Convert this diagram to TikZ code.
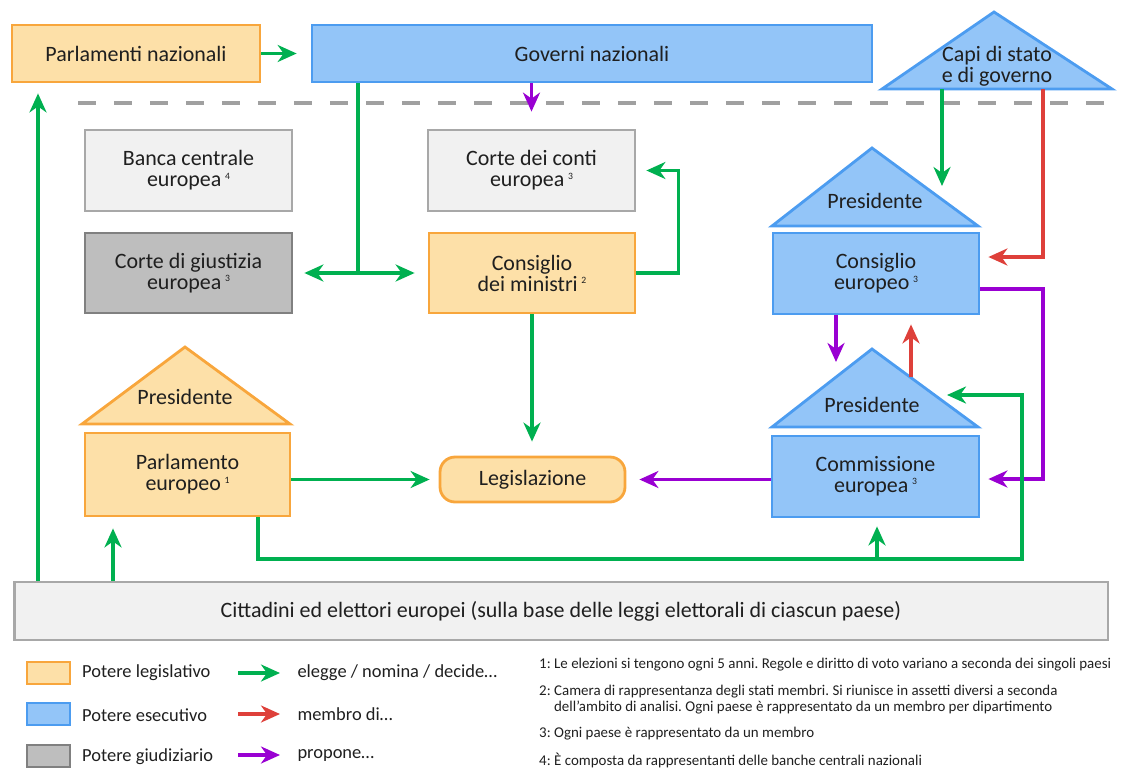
\documentclass[tikz,border=0pt]{standalone}
\usepackage{fontspec}
\setmainfont{Carlito}
\usetikzlibrary{arrows.meta}
\frenchspacing

\definecolor{orbd}{RGB}{248,166,60}
\definecolor{orfill}{RGB}{253,224,168}
\definecolor{blbd}{RGB}{76,156,240}
\definecolor{blfill}{RGB}{147,197,248}
\definecolor{gybd}{RGB}{168,168,168}
\definecolor{gyfill}{RGB}{241,241,241}
\definecolor{dgbd}{RGB}{128,128,128}
\definecolor{dgfill}{RGB}{190,190,190}
\definecolor{gcol}{RGB}{0,176,80}
\definecolor{rcol}{RGB}{222,64,58}
\definecolor{pcol}{RGB}{153,0,210}
\definecolor{sepcol}{RGB}{160,160,160}

\newcommand{\nref}[1]{\,\raisebox{0.75ex}{\fontsize{5.5}{5.5}\selectfont #1}}

\begin{document}
\begin{tikzpicture}[x=0.02cm,y=-0.02cm,
	>={Stealth[length=0.38cm,width=0.34cm,inset=0.12cm]},
	every node/.style={font=\fontsize{12.5}{12}\selectfont, text=black!88, align=center},
	box/.style={draw, line width=1.6pt, inner sep=0pt},
	legbox/.style={box, draw=orbd, fill=orfill},
	exbox/.style={box, draw=blbd, fill=blfill},
	neubox/.style={box, draw=gybd, fill=gyfill},
	giubox/.style={box, draw=dgbd, fill=dgfill},
	gr/.style={draw=gcol, line width=1.9pt},
	rd/.style={draw=rcol, line width=1.9pt},
	pu/.style={draw=pcol, line width=1.9pt},
	small/.style={font=\fontsize{10.5}{12}\selectfont, anchor=west, align=left},
	tiny/.style={font=\fontsize{8.5}{9.2}\selectfont, anchor=west, align=left}]
	\useasboundingbox (0,0) rectangle (1121,767);

	% top row
	\node[legbox, minimum width=4.96cm, minimum height=1.14cm] (pnaz) at (136,53.5) {Parlamenti nazionali};
	\node[exbox, minimum width=11.2cm, minimum height=1.14cm] (gnaz) at (592,53.5) {Governi nazionali};
	\draw[exbox] (882,89) -- (994,12) -- (1112,89) -- cycle;
	\node (capi) at (997,66) {Capi di stato\\e di governo};
	\draw[sepcol, line width=2pt, dash pattern=on 0.36cm off 0.36cm] (78,103) -- (1112,103);

	% institutions
	\node[neubox, minimum width=4.14cm, minimum height=1.62cm] (bce) at (188.5,170.5) {Banca centrale\\europea\nref{4}};
	\node[neubox, minimum width=4.14cm, minimum height=1.62cm] (cdc) at (531.5,170.5) {Corte dei conti\\europea\nref{3}};
	\node[giubox, minimum width=4.14cm, minimum height=1.6cm] (cgiu) at (188.5,273) {Corte di giustizia\\europea\nref{3}};
	\node[legbox, minimum width=4.12cm, minimum height=1.6cm] (cmin) at (532,273) {Consiglio\\dei ministri\nref{2}};
	\node[legbox, rounded corners=0.3cm, minimum width=3.7cm, minimum height=0.9cm] (legi) at (532.5,479.5) {Legislazione};

	\draw[legbox] (82,424) -- (185,347) -- (290,424) -- cycle;
	\node (ppres) at (185,397) {Presidente};
	\node[legbox, minimum width=4.1cm, minimum height=1.66cm] (peur) at (187.5,474.5) {Parlamento\\europeo\nref{1}};

	\draw[exbox] (772,226) -- (872,148) -- (978,226) -- cycle;
	\node (cpres) at (875,201) {Presidente};
	\node[exbox, minimum width=4.12cm, minimum height=1.62cm] (ceur) at (876,273.5) {Consiglio\\europeo\nref{3}};

	\draw[exbox] (772,427) -- (872,349) -- (978,427) -- cycle;
	\node (mpres) at (872,405) {Presidente};
	\node[exbox, minimum width=4.14cm, minimum height=1.62cm] (comm) at (875.5,476.5) {Commissione\\europea\nref{3}};

	\node[neubox, minimum width=21.88cm, minimum height=1.16cm] (citt) at (561,611) {Cittadini ed elettori europei (sulla base delle leggi elettorali di ciascun paese)};

	% connectors
	\coordinate (jg) at (358,273);
	\coordinate (capiG) at (942,89);
	\coordinate (capiR) at (1043,89);
	\coordinate (ctri) at (942,186);
	\coordinate (mtriL) at (836,362);
	\coordinate (mtriR) at (911,377);
	\coordinate (mtriA) at (947,395);
	\coordinate (low) at (1022,559);
	\draw[gr,->] (pnaz.east) -- ([xshift=-0.28cm]gnaz.west);
	\draw[pu,->] (gnaz.south -| cdc) -- ([yshift=0.34cm]cdc.north);
	\draw[gr] (jg |- gnaz.south) -- (jg);
	\draw[gr,<->,shorten <=0.22cm,shorten >=0.26cm] (cgiu.east) -- (cmin.west);
	\draw[gr,->] (cmin.east) -- ++(42,0) |- ([xshift=0.2cm]cdc.east);
	\draw[gr,->] (cmin.south) -- ([yshift=0.28cm]cmin.south |- legi.north);
	\draw[gr,->] (peur.east |- legi) -- ([xshift=-0.18cm]legi.west);
	\draw[pu,->] (comm.west |- legi) -- ([xshift=0.26cm]legi.east);
	\draw[gr,->] (capiG) -- (ctri);
	\draw[rd,->] (capiR) |- ([xshift=0.16cm]ceur.east |- 0,257);
	\draw[pu,->] (ceur.east |- 0,289) -| (capiR |- 0,380) |- ([xshift=0.16cm]comm.east |- 0,479);
	\draw[pu,->] (ceur.south -| mtriL) -- (mtriL);
	\draw[rd,->] (mtriR) -- ([yshift=-0.18cm]ceur.south -| mtriR);
	\draw[gr,->] (peur.south -| 258,0) |- (low) |- (mtriA);
	\draw[gr,->] (877,559) -- ([yshift=-0.16cm]comm.south -| 877,0);
	\draw[gr,->] (citt.north -| 38,0) -- ([yshift=-0.2cm]pnaz.south -| 38,0);
	\draw[gr,->] (citt.north -| 113,0) -- ([yshift=-0.22cm]peur.south -| 113,0);

	% legend
	\node[legbox, minimum width=0.86cm, minimum height=0.44cm] (lg1) at (48.5,673) {};
	\node[exbox, minimum width=0.86cm, minimum height=0.44cm] (lg2) at (48.5,714) {};
	\node[giubox, minimum width=0.86cm, minimum height=0.44cm] (lg3) at (48.5,756) {};
	\node[small] (lt1) at (76,673) {Potere legislativo};
	\node[small] (lt2) at (76,715) {Potere esecutivo};
	\node[small] (lt3) at (76,757) {Potere giudiziario};
	\coordinate (la1) at (238,673);
	\coordinate (la2) at (238,714);
	\coordinate (la3) at (238,755);
	\draw[gr,->] (la1) -- ++(42,0) node[small, text=black!88, xshift=0.2cm] (lr1) {elegge / nomina / decide\ldots};
	\draw[rd,->] (la2) -- ++(42,0) node[small, text=black!88, xshift=0.2cm] (lr2) {membro di\ldots};
	\draw[pu,->] (la3) -- ++(42,0) node[small, text=black!88, xshift=0.2cm] (lr3) {propone\ldots};

	\node[tiny] (n1) at (533,665) {1: Le elezioni si tengono ogni 5 anni. Regole e diritto di voto variano a seconda dei singoli paesi};
	\node[tiny] (n2) at (533,700) {2: Camera di rappresentanza degli stati membri. Si riunisce in assetti diversi a seconda\\\hphantom{2: }dell'ambito di analisi. Ogni paese è rappresentato da un membro per dipartimento};
	\node[tiny] (n3) at (533,734) {3: Ogni paese è rappresentato da un membro};
	\node[tiny] (n4) at (533,760) {4: È composta da rappresentanti delle banche centrali nazionali};
\end{tikzpicture}
\end{document}
